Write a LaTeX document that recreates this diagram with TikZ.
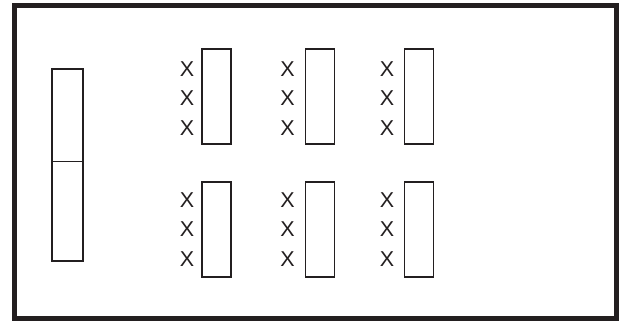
\documentclass[tikz,border=0pt]{standalone}
\usepackage{fontspec}
\setmainfont{Liberation Sans}
\definecolor{ink}{HTML}{231F20}
\begin{document}
\begin{tikzpicture}[x=1pt,y=-1pt,
  framebox/.style={draw=ink,line width=4.5pt,rectangle,inner sep=0pt},
  slot/.style={draw=ink,line width=1.8pt,rectangle,inner sep=0pt,minimum width=29pt,minimum height=95pt},
  half/.style={draw=ink,line width=1.8pt,rectangle,inner sep=0pt,minimum width=31pt},
  xmark/.style={text=ink,font=\fontsize{21.5}{21.5}\selectfont,inner sep=0pt,anchor=center}]
\useasboundingbox (0,0) rectangle (626,322);
\fill[white] (0,0) rectangle (626,322);
\node[framebox,minimum width=602pt,minimum height=313pt] (outer) at (315.5,162) {};
% left split box
\node[half,minimum height=92.5pt] (lt) at (67.8,115.2) {};
\node[half,minimum height=99.5pt] (lb) at (67.8,211.2) {};
% slots
\foreach \c/\cx/\mx in {1/216.8/187, 2/319.9/287.5, 3/419/387}{
  \node[slot] (t\c) at (\cx,96.7) {};
  \node[slot] (b\c) at (\cx,229.5) {};
  \node[xmark] (t\c a) at (\mx,69) {X};
  \node[xmark] (t\c b) at (\mx,98.5) {X};
  \node[xmark] (t\c c) at (\mx,128) {X};
  \node[xmark] (b\c a) at (\mx,200) {X};
  \node[xmark] (b\c b) at (\mx,229.5) {X};
  \node[xmark] (b\c c) at (\mx,259) {X};
}
\end{tikzpicture}
\end{document}
